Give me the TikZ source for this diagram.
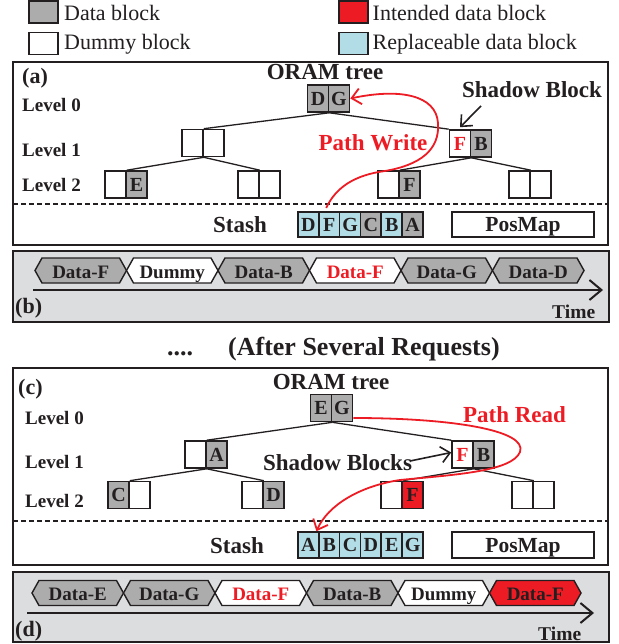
\documentclass[tikz,border=0pt]{standalone}
\usepackage{fontspec}
\setmainfont{Liberation Serif}
\usetikzlibrary{arrows.meta,calc}
\definecolor{ink}{RGB}{35,31,32}
\definecolor{blkgray}{RGB}{172,172,172}
\definecolor{blkblue}{RGB}{178,221,230}
\definecolor{blkred}{RGB}{237,28,36}
\definecolor{panelbg}{RGB}{220,221,222}
\newcommand\myfs[1]{\fontsize{#1}{#1}\selectfont}
\tikzset{
  panel/.style={draw=ink, line width=2pt},
  blk/.style={draw=ink, line width=1.6pt, minimum width=21pt, minimum height=27pt, inner sep=0pt,
    font=\myfs{20}\bfseries, text height=13.2pt, text depth=0pt, text=ink},
  sblk/.style={blk, minimum width=20.83pt, minimum height=25.5pt},
  posbox/.style={draw=ink, line width=1.6pt, minimum width=142pt, minimum height=25.5pt, inner sep=0pt,
    font=\myfs{21.5}\bfseries, text height=14.2pt, text depth=0pt, text=ink},
  legsq/.style={draw=ink, line width=1.8pt, minimum width=29pt, minimum height=22pt, inner sep=0pt},
  legtxt/.style={font=\myfs{22}, anchor=base west, inner sep=0pt, text=ink},
  lvl/.style={font=\myfs{19}\bfseries, anchor=base west, inner sep=0pt, text=ink},
  ttl/.style={font=\myfs{23}\bfseries, anchor=base, inner sep=0pt, text=ink},
  plbl/.style={font=\myfs{22}\bfseries, anchor=base west, inner sep=0pt, text=ink},
  tagtxt/.style={font=\myfs{19}\bfseries, anchor=base, inner sep=0pt},
  tagline/.style={draw=ink, line width=1.4pt, line join=miter},
  edge/.style={draw=ink, line width=1.3pt},
  dashline/.style={draw=ink, line width=1.5pt, dash pattern=on 5pt off 3pt},
  redarr/.style={draw=blkred, line width=1.8pt, -{Straight Barb[length=9pt,width=16pt,line width=1.8pt]}},
  blkarr/.style={draw=ink, line width=1.6pt, -{Straight Barb[length=9pt,width=16pt,line width=1.6pt]}},
  timearr/.style={draw=ink, line width=2pt, -{Straight Barb[length=12pt,width=20pt,line width=2pt]}},
}
% #1 name, #2 left tip x, #3 centre y, #4 fill, #5 text colour, #6 text
\newcommand\tagbox[6]{%
  \draw[tagline, fill=#4] (#2,#3) -- ++(7,-12.5) -- ++(77.5,0) -- ++(7,12.5) -- ++(-7,12.5) -- ++(-77.5,0) -- cycle;
  \node[tagtxt, text=#5] (#1) at (#2+45.75,#3+7.5) {#6};
}
\begin{document}
\begin{tikzpicture}[x=1pt,y=-1pt]
\useasboundingbox (0,0) rectangle (618,644);

% ---------- legend ----------
\node[legsq, fill=blkgray] (lg1) at (43.5,12) {};
\node[legsq, fill=white] (lg2) at (43.5,43.5) {};
\node[legsq, fill=blkred] (lg3) at (353.5,12) {};
\node[legsq, fill=blkblue] (lg4) at (353.5,43.5) {};
\node[legtxt] (lt1) at (64,21) {Data block};
\node[legtxt] (lt2) at (64,50) {Dummy block};
\node[legtxt] (lt3) at (372.5,21) {Intended data block};
\node[legtxt] (lt4) at (372.5,50) {Replaceable data block};

% ---------- panel (a) ----------
\draw[panel, fill=white] (13,62) rectangle (608,245);
\node[plbl] (pa) at (22,84) {(a)};
\node[ttl] (ta) at (325,80) {ORAM tree};
\node[lvl] (la0) at (22,112) {Level 0};
\node[lvl] (la1) at (22,157) {Level 1};
\node[lvl] (la2) at (22,192) {Level 2};

\node[blk, fill=blkgray] (a0l) at (318,98.5) {D};
\node[blk, fill=blkgray] (a0r) at (339,98.5) {G};
\node[blk, fill=white] (a1ll) at (192.5,143) {};
\node[blk, fill=white] (a1lr) at (213.5,143) {};
\node[blk, fill=white, text=blkred] (a1rl) at (460,143.5) {F};
\node[blk, fill=blkgray] (a1rr) at (481,143.5) {B};
\node[blk, fill=white] (a2al) at (115.5,184.5) {};
\node[blk, fill=blkgray] (a2ar) at (136.5,184.5) {E};
\node[blk, fill=white] (a2bl) at (248.5,184.5) {};
\node[blk, fill=white] (a2br) at (269.5,184.5) {};
\node[blk, fill=white] (a2cl) at (388.5,184.5) {};
\node[blk, fill=blkgray] (a2cr) at (409.5,184.5) {F};
\node[blk, fill=white] (a2dl) at (519.5,184.5) {};
\node[blk, fill=white] (a2dr) at (540.5,184.5) {};

\draw[edge] (a0l.south east) -- (a1ll.north east);
\draw[edge] (a0l.south east) -- (a1rl.north west);
\draw[edge] (a1ll.south east) -- (a2al.north east);
\draw[edge] (a1ll.south east) -- (a2bl.north east);
\draw[edge] (a1rl.south east) -- (a2cl.north east);
\draw[edge] (a1rl.south east) -- (a2dl.north east);

\draw[dashline] (13,204) -- (608,204);
\node[ttl, anchor=base west] (sa) at (213,233) {Stash};
\node[sblk, fill=blkblue] (as1) at (308.4,224.5) {D};
\node[sblk, fill=blkblue] (as2) at (329.2,224.5) {F};
\node[sblk, fill=blkblue] (as3) at (350.1,224.5) {G};
\node[sblk, fill=blkgray] (as4) at (370.9,224.5) {C};
\node[sblk, fill=blkblue] (as5) at (391.7,224.5) {B};
\node[sblk, fill=blkgray] (as6) at (412.6,224.5) {A};
\node[posbox, fill=white] (pma) at (523,224.5) {PosMap};

\node[ttl] (shb) at (532,98) {Shadow Block};
\coordinate (sbA) at (481,106);
\draw[blkarr] (sbA) -- ($(a1rl.north)+(0,-2)$);
\node[ttl, text=blkred] (pw) at (373,151) {Path Write};
\draw[redarr] ($(as2.north)+(-3,-3)$) .. controls (336,187) and (355,175) .. (385,171)
   .. controls (420,165) and (440,150) .. (438,123)
   .. controls (436,95) and (400,88) .. (a0r.east);

% ---------- panel (b) ----------
\draw[panel, fill=panelbg] (13,251) rectangle (609,322);
\tagbox{tb1}{35}{270.5}{blkgray}{ink}{Data-F}
\tagbox{tb2}{126.5}{270.5}{white}{ink}{Dummy}
\tagbox{tb3}{218}{270.5}{blkgray}{ink}{Data-B}
\tagbox{tb4}{309.5}{270.5}{white}{blkred}{Data-F}
\tagbox{tb5}{401}{270.5}{blkgray}{ink}{Data-G}
\tagbox{tb6}{492.5}{270.5}{blkgray}{ink}{Data-D}
\coordinate (tlb0) at (33,290);
\coordinate (tlb1) at (603,290);
\draw[timearr] (tlb0) -- (tlb1);
\node[plbl] (pb) at (15,313) {(b)};
\node[lvl, font=\myfs{19.5}\bfseries] (timeb) at (552,318) {Time};

% ---------- middle text ----------
\node[font=\myfs{26}\bfseries, anchor=base west, inner sep=0pt, text=ink] (dots) at (167,355) {....};
\node[font=\myfs{26}\bfseries, anchor=base west, inner sep=0pt, text=ink] (after) at (228,355) {(After Several Requests)};

% ---------- panel (c) ----------
\draw[panel, fill=white] (13,368) rectangle (608,565);
\node[plbl] (pc) at (18,394) {(c)};
\node[ttl] (tc) at (331,389) {ORAM tree};
\node[lvl] (lc0) at (25,424) {Level 0};
\node[lvl] (lc1) at (25,468) {Level 1};
\node[lvl] (lc2) at (25,507) {Level 2};

\node[blk, fill=blkgray] (c0l) at (321,408) {E};
\node[blk, fill=blkgray] (c0r) at (342,408) {G};
\node[blk, fill=white] (c1ll) at (195.5,454.5) {};
\node[blk, fill=blkgray] (c1lr) at (216.5,454.5) {A};
\node[blk, fill=white, text=blkred] (c1rl) at (462.5,454.5) {F};
\node[blk, fill=blkgray] (c1rr) at (483.5,454.5) {B};
\node[blk, fill=blkgray] (c2al) at (118.5,495) {C};
\node[blk, fill=white] (c2ar) at (139.5,495) {};
\node[blk, fill=white] (c2bl) at (252.5,495) {};
\node[blk, fill=blkgray] (c2br) at (273.5,495) {D};
\node[blk, fill=white] (c2cl) at (391.5,495) {};
\node[blk, fill=blkred] (c2cr) at (412.5,495) {F};
\node[blk, fill=white] (c2dl) at (522.5,495) {};
\node[blk, fill=white] (c2dr) at (543.5,495) {};

\draw[edge] (c0l.south east) -- (c1ll.north east);
\draw[edge] (c0l.south east) -- (c1rl.north west);
\draw[edge] (c1ll.south east) -- (c2al.north east);
\draw[edge] (c1ll.south east) -- (c2bl.north east);
\draw[edge] (c1rl.south east) -- (c2cl.north east);
\draw[edge] (c1rl.south east) -- (c2dl.north east);

\draw[dashline] (13,521) -- (608,521);
\node[ttl, anchor=base west] (sc) at (210,553) {Stash};
\node[sblk, fill=blkblue, minimum height=26pt] (cs1) at (308.4,545) {A};
\node[sblk, fill=blkblue, minimum height=26pt] (cs2) at (329.2,545) {B};
\node[sblk, fill=blkblue, minimum height=26pt] (cs3) at (350.1,545) {C};
\node[sblk, fill=blkblue, minimum height=26pt] (cs4) at (370.9,545) {D};
\node[sblk, fill=blkblue, minimum height=26pt] (cs5) at (391.7,545) {E};
\node[sblk, fill=blkblue, minimum height=26pt] (cs6) at (412.6,545) {G};
\node[posbox, fill=white, minimum height=26pt] (pmc) at (523,545) {PosMap};

\node[ttl] (shc) at (337.5,470) {Shadow Blocks};
\coordinate (sbC) at (410,461);
\draw[blkarr] (sbC) -- ($(c1rl.west)+(0,-2)$);
\node[ttl, text=blkred] (pr) at (514.5,422) {Path Read};
\draw[redarr] ($(c0r.east)+(0,10)$) .. controls (450,418) and (528,430) .. (520,452)
   .. controls (512,472) and (450,475) .. (400,480)
   .. controls (360,486) and (328,505) .. ($(cs1.north)+(8,0)$);

% ---------- panel (d) ----------
\draw[panel, fill=panelbg] (13,572) rectangle (609,642);
\tagbox{td1}{32}{593}{blkgray}{ink}{Data-E}
\tagbox{td2}{123.5}{593}{blkgray}{ink}{Data-G}
\tagbox{td3}{215}{593}{white}{blkred}{Data-F}
\tagbox{td4}{306.5}{593}{blkgray}{ink}{Data-B}
\tagbox{td5}{398}{593}{white}{ink}{Dummy}
\tagbox{td6}{489.5}{593}{blkred}{ink}{Data-F}
\coordinate (tld0) at (27,613);
\coordinate (tld1) at (594,613);
\draw[timearr] (tld0) -- (tld1);
\node[plbl] (pd) at (15,636) {(d)};
\node[lvl, font=\myfs{19.5}\bfseries] (timed) at (538,640) {Time};
\end{tikzpicture}
\end{document}
